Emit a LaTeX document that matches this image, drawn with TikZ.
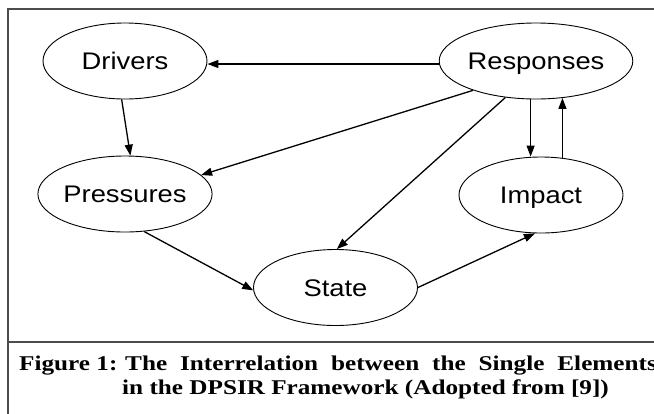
\documentclass[tikz,border=0pt]{standalone}
\usepackage{fontspec}
\setmainfont{Liberation Serif}
\newfontfamily\diagfont{Liberation Sans}
\usetikzlibrary{shapes.geometric,arrows.meta,calc}
\newcommand{\wtext}[1]{\scalebox{1.14}[1]{#1}}
\newcommand{\wcap}[1]{\scalebox{1.2}[1]{#1}}
\begin{document}
\begin{tikzpicture}[x=1bp,y=-1bp,
  elem/.style={ellipse,draw=black,line width=0.9bp,minimum width=164bp,minimum height=76bp,inner sep=0pt,
     font=\diagfont\fontsize{24bp}{24bp}\selectfont,text height=17.2bp,text depth=0bp},
  arr/.style={line width=1.3bp,-{Triangle[length=11bp,width=8bp]}},
  frame/.style={draw=black!70,line width=2bp},
  captxt/.style={inner sep=0pt,anchor=base west,font=\bfseries\fontsize{21bp}{21bp}\selectfont}]
\useasboundingbox[fill=white] (0,0) rectangle (654,413);
% frame
\coordinate (tl) at (8,9);
\coordinate (tr) at (655,9);
\coordinate (bl) at (8,414);
\coordinate (sl) at (8,342);
\coordinate (sr) at (655,342);
\draw[frame] (tr) -- (tl) -- (bl);
\draw[frame] (sl) -- (sr);
% elements
\node[elem] (drv)  at (125,61)    {\wtext{Drivers}};
\node[elem] (resp) at (536,61)    {\wtext{Responses}};
\node[elem] (pr)   at (125,194)   {\wtext{Pressures}};
\node[elem] (imp)  at (541,195)   {\wtext{Impact}};
\node[elem] (st)   at (335.5,287.5) {\wtext{State}};
% connectors
\draw[arr] ([yshift=-3bp]resp.west) -- ([yshift=-3bp]drv.east);
\draw[arr] (drv.265) -- (pr.82);
\draw[arr] (resp.205) -- (pr.14);
\draw[arr] (resp.230) -- (st.88);
\draw[arr] (resp.262) -- (resp.262 |- imp.north);
\draw[arr] (imp.60) -- (imp.60 |- resp.306);
\draw[arr] (pr.297) -- (st.182);
\draw[arr] (st.east) -- (imp.261);
% caption
\node[captxt] (capA) at (19,370) {\wcap{Figure 1:}};
\node[captxt] (capB) at (125,370) {\wcap{\makebox[443bp][s]{The Interrelation between the Single Elements}}};
\node[captxt] (capC) at (122,394) {\wcap{in the DPSIR Framework (Adopted from [9])}};
\end{tikzpicture}
\end{document}
